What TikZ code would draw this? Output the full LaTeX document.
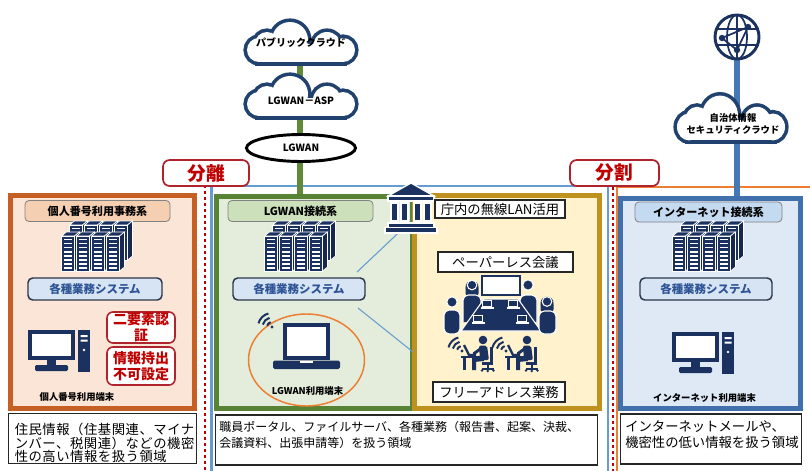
\documentclass[tikz,border=0pt]{standalone}
\usepackage{fontspec}
\setmainfont{Noto Sans CJK JP}
\usetikzlibrary{shapes.geometric}
\pgfdeclarelayer{paper}
\pgfdeclarelayer{zones}
\pgfdeclarelayer{links}
\pgfsetlayers{paper,zones,links,main}

\definecolor{navy}{RGB}{27,50,96}
\definecolor{cloudline}{RGB}{33,66,110}
\definecolor{lgwgreen}{RGB}{96,138,58}
\definecolor{netblue}{RGB}{70,120,180}
\definecolor{lboxline}{RGB}{197,95,35}
\definecolor{lboxfill}{RGB}{251,229,214}
\definecolor{lhdrfill}{RGB}{245,207,178}
\definecolor{gboxline}{RGB}{88,130,52}
\definecolor{gboxfill}{RGB}{228,237,219}
\definecolor{ghdrfill}{RGB}{205,224,188}
\definecolor{yboxline}{RGB}{191,145,30}
\definecolor{yboxfill}{RGB}{255,242,204}
\definecolor{rboxline}{RGB}{66,112,172}
\definecolor{rboxfill}{RGB}{222,233,245}
\definecolor{rhdrfill}{RGB}{196,218,240}
\definecolor{sysfill}{RGB}{214,228,243}
\definecolor{sysline}{RGB}{45,55,75}
\definecolor{systext}{RGB}{46,84,150}
\definecolor{alert}{RGB}{192,0,0}
\definecolor{alertline}{RGB}{175,35,45}
\definecolor{zoneblue}{RGB}{100,155,210}
\definecolor{zoneorange}{RGB}{237,125,49}
\definecolor{hdrline}{RGB}{130,130,130}

\newcommand\jfs[2]{\fontsize{#1}{#2}\selectfont}

\tikzset{
  px/.style 2 args={minimum width=#1*0.75pt, minimum height=#2*0.75pt},
  zonebox/.style 2 args={draw=#1, fill=#2, line width=3.6pt, inner sep=0pt},
  hdr/.style={draw=hdrline, line width=0.6pt, rounded corners=3pt, inner sep=0pt, font=\bfseries\jfs{8.3}{10}},
  sys/.style={draw=sysline, fill=sysfill, line width=1.1pt, rounded corners=3.5pt, inner sep=0pt, text=systext, font=\bfseries\jfs{8.6}{10}},
  desc/.style={draw=black!85, fill=white, line width=1.2pt, inner sep=0pt},
  desctext/.style={inner sep=0pt, align=left, anchor=west},
  tag/.style={draw=black!85, fill=white, line width=1.1pt, inner sep=0pt, font=\jfs{10}{12}},
  redbox/.style={draw=alertline, fill=white, line width=1.2pt, rounded corners=4.5pt, inner sep=0pt, text=alert, align=center, font=\bfseries\jfs{10.5}{12}},
  sepbox/.style={draw=alertline, fill=white, line width=1.3pt, rounded corners=5pt, inner sep=0pt, text=alert, font=\bfseries\jfs{14}{16}},
  cloudtxt/.style={inner sep=0pt, align=center, font=\bfseries\jfs{7.5}{9}},
  devlabel/.style={inner sep=0pt, font=\bfseries\jfs{7}{8}},
  lgwlink/.style={draw=lgwgreen, line width=4.5pt},
  netlink/.style={draw=netblue, line width=5pt},
  radio/.style={draw=zoneblue, line width=0.8pt},
  sepline/.style={draw=alert, line width=2.2pt, dash pattern=on 2.2pt off 2.3pt},
  % cloud outline: thick stroke of every puff first, then each puff filled white
  pics/cloud/.style={code={
    \foreach \cx/\cy/\r in {-42/8/12, 42/8/12, -11/-2/18, -34/2/12, 26/4/14}
      \filldraw[cloudline, line width=5.4pt] (\cx,\cy) circle (\r);
    \filldraw[cloudline, line width=5.4pt] (-42,2) rectangle (42,20);
    \foreach \cx/\cy/\r in {-42/8/12, 42/8/12, -11/-2/18, -34/2/12, 26/4/14}
      \fill[white] (\cx,\cy) circle (\r);
    \fill[white] (-42,2) rectangle (42,20);
  }},
  % rack of servers, two rows of four towers
  pics/servers/.style={code={
    \foreach \ox/\oy in {8/-11, 0/0}{
      \foreach \i in {0,1,2,3}{
        \begin{scope}[shift={(\ox+\i*15,\oy)}]
          \filldraw[navy, draw=white, line width=0.5pt] (0,0) -- (5,-4) -- (18,-4) -- (13,0) -- cycle;
          \filldraw[navy!80!black, draw=white, line width=0.5pt] (13,0) -- (18,-4) -- (18,31) -- (13,35) -- cycle;
          \filldraw[navy, draw=white, line width=0.5pt] (0,0) rectangle (13,35);
          \foreach \k in {0,...,7} \fill[white] (2.2,2.6+\k*4.1) rectangle (10.8,4.2+\k*4.1);
        \end{scope}
      }
    }
  }},
  % desktop computer: monitor and tower
  pics/desktop/.style={code={
    \filldraw[fill=white, draw=navy, line width=3pt] (2,2) rectangle (45,28);
    \fill[navy] (19,30) rectangle (28,35.5);
    \fill[navy, rounded corners=1pt] (7,35) rectangle (40,41);
    \fill[navy] (50,0) rectangle (62,42);
    \fill[white] (52.5,5) rectangle (59.5,7) (52.5,9.5) rectangle (59.5,11.5);
    \fill[white] (56,20) circle (1.4);
  }},
  % notebook computer
  pics/laptop/.style={code={
    \filldraw[fill=white, draw=navy, line width=3.3pt] (2.2,2.2) rectangle (44.8,35);
    \fill[navy, rounded corners=1.2pt] (-10,37.5) rectangle (57,46);
    \fill[white] (17,37.5) rectangle (30,40);
  }},
  % wireless symbol, waves towards the upper left
  pics/wifi/.style={code={
    \fill[navy] (0,0) circle (1.7);
    \foreach \r in {5,9.5,14}
      \draw[navy, line width=1.5pt] (0,0) ++(195:\r) arc[start angle=195, end angle=255, radius=\r];
  }},
  % person working at a desk with a notebook
  pics/worker/.style={code={
    \pic at (-21,11) {wifi};
    \draw[navy, line width=1.8pt] (-19,5) -- (-14,15) -- (-7,15);
    \fill[navy] (-22,15.5) rectangle (-2,18);
    \fill[navy] (-20,18) rectangle (-17.5,30);
    \fill[navy] (0,0) circle (4.3);
    \fill[navy, rounded corners=1.5pt] (-4,5.5) -- (4,5.5) -- (6,20) -- (-3,20) -- cycle;
    \draw[navy, line width=2.2pt, line cap=round] (-2,8.5) -- (-9,13.5);
    \draw[navy, line width=3pt] (1,19) -- (-9,20) -- (-9,30);
    \fill[navy] (7,7) rectangle (9.5,23.5);
    \fill[navy] (-1,22) rectangle (9.5,24.5);
    \fill[navy] (3.8,24.5) rectangle (5.6,28.5);
    \draw[navy, line width=1.4pt] (-1,29) -- (10.5,29);
    \fill[navy] (-1,30.5) circle (1.3) (4.7,31) circle (1.3) (10.5,30.5) circle (1.3);
  }},
}

\begin{document}
\begin{tikzpicture}[x=0.75pt,y=-0.75pt]
\useasboundingbox (0,0) rectangle (810,471);
\begin{pgfonlayer}{paper}
  \fill[white] (0,0) rectangle (810,471);
\end{pgfonlayer}

% ---------- zone boundaries and separation lines ----------
\begin{pgfonlayer}{zones}
  \draw[zoneblue, line width=1.6pt] (211.5,480) -- (211.5,186) -- (608,186) -- (608,480);
  \draw[zoneorange, line width=1.6pt] (617,480) -- (617,187) -- (815,187);
  \draw[sepline] (205,185) -- (205,475);
  \draw[sepline] (613,187) -- (613,475);
\end{pgfonlayer}

% ---------- the three network areas ----------
\node[zonebox={lboxline}{lboxfill}, px={184}{213}] (lbox) at (102.5,302) {};
\node[zonebox={gboxline}{gboxfill}, px={196}{212}] (gbox) at (314.5,302.5) {};
\node[zonebox={yboxline}{yboxfill}, px={185}{213}] (ybox) at (507,302) {};
\node[zonebox={rboxline}{rboxfill}, px={180}{210}] (rbox) at (710.5,303.5) {};

% ---------- uplinks ----------
\coordinate (pubpt) at (300,42);
\coordinate (globe) at (737,37);
\begin{pgfonlayer}{links}
  \draw[lgwlink] (pubpt) -- (pubpt |- gbox.north);
  \draw[netlink] (globe) -- (globe |- rbox.north);
\end{pgfonlayer}

% ---------- clouds, LGWAN and the internet ----------
\pic at (301,42) {cloud};
\node[cloudtxt] (pubc) at (301,43) {パブリッククラウド};
\pic at (301,96) {cloud};
\node[cloudtxt] (aspc) at (301,101) {LGWAN－ASP};
\node[ellipse, draw=black, line width=2.2pt, fill=white, px={109}{27}, inner sep=0pt, font=\bfseries\jfs{7.5}{9}] (lgwan) at (301,148) {LGWAN};
\pic[yscale=1.12] at (731,118) {cloud};
\node[cloudtxt, font=\bfseries\jfs{7}{9}] (secc) at (733,124) {自治体情報\\セキュリティクラウド};

% globe
\begin{scope}
  \filldraw[fill=white, draw=navy, line width=2.2pt] (globe) circle (22);
  \clip (globe) circle (21);
  \draw[navy, line width=1.3pt] (globe) ellipse [x radius=10, y radius=22];
  \draw[navy, line width=1.3pt] (737,14) -- (737,60) (714,29) -- (760,29) (714,45) -- (760,45);
  \draw[navy, line width=1.3pt] (722,38) -- (748,27) -- (737,50) -- cycle;
  \fill[navy] (722,38) circle (3.2) (748,27) circle (3.2) (737,50) circle (3.2);
\end{scope}

% ---------- separation labels ----------
\node[sepbox, px={86}{26}] (sepA) at (206,173) {分離};
\node[sepbox, px={89}{26}] (sepB) at (614.5,173) {分割};

% ---------- personal number area ----------
\node[hdr, fill=lhdrfill, px={145}{21}] (lhdr) at (97.5,211) {個人番号利用事務系};
\pic at (61.5,236) {servers};
\node[sys, px={134}{22}] (lsys) at (95,289) {各種業務システム};
\pic at (28,330) {desktop};
\node[redbox, px={68}{31}] (twofa) at (141,327.5) {二要素認\\証};
\node[redbox, px={68}{38}] (noexp) at (141,366) {情報持出\\不可設定};
\node[devlabel] (lterm) at (77,397) {個人番号利用端末};

% ---------- LGWAN area ----------
\node[hdr, fill=ghdrfill, px={145}{21}] (ghdr) at (300.5,211) {LGWAN接続系};
\pic at (264.5,236) {servers};
\node[sys, px={132}{22}] (gsys) at (299,289) {各種業務システム};
\draw[zoneorange, line width=1.1pt] (306.5,360) ellipse [x radius=58, y radius=46];
\pic at (283,323) {laptop};
\pic at (272,327) {wifi};
\node[devlabel] (gterm) at (307.5,391) {LGWAN利用端末};

% wireless links from the office building
\coordinate (bankfoot) at (411,221);
\coordinate (wlA) at (357,272);
\coordinate (wlB) at (358,308);
\coordinate (wlC) at (413,352);
\draw[radio] (bankfoot) -- (wlA);
\draw[radio] (wlB) -- (wlC);

% office building
\begin{scope}[navy, draw=white, line width=1pt]
  \filldraw (388,196) -- (411,183) -- (434,196) -- cycle;
  \filldraw (388,196) rectangle (434,201);
  \filldraw (391,203) rectangle (398,221) (401,203) rectangle (408,221)
            (414,203) rectangle (421,221) (424,203) rectangle (431,221);
  \filldraw (388,223) rectangle (434,227.5);
  \filldraw (385,227.5) rectangle (437,233);
\end{scope}
\node[tag, px={130}{18}] (wlan) at (500,209) {庁内の無線LAN活用};

% ---------- paperless meeting ----------
\node[tag, px={135}{20}] (paper) at (505.5,262) {ペーパーレス会議};
\filldraw[fill=white, draw=navy, line width=1.5pt] (482,275.5) rectangle (520,295);
% people at the back
\fill[navy] (472,287) circle (6.5);
\fill[navy, rounded corners=2pt] (465.5,286) rectangle (478.5,296);
\filldraw[navy, draw=white, line width=0.8pt, rounded corners=4pt] (463,322) -- (463,295) -- (481,295) -- (481,322);
\filldraw[navy, draw=white, line width=0.8pt] (472,285) circle (4.8);
\filldraw[navy, draw=white, line width=0.8pt, rounded corners=4pt] (520,322) -- (520,295) -- (537,295) -- (537,322);
\filldraw[navy, draw=white, line width=0.8pt] (528,285) circle (5.2);
% table with notebooks
\filldraw[navy, draw=white, line width=0.8pt] (484,299) -- (518,299) -- (541,331) -- (461,331) -- cycle;
\foreach \cx/\cy in {487/307, 513/307, 478/322, 522/322}{
  \draw[white, line width=0.8pt] (\cx-4.5,\cy-6.5) rectangle (\cx+4.5,\cy-0.5);
  \draw[white, line width=1.1pt] (\cx-6.5,\cy+0.8) -- (\cx+6.5,\cy+0.8);
}
% people at the sides
\filldraw[navy, draw=white, line width=0.8pt, rounded corners=4pt] (444,334) -- (444,310) -- (460,310) -- (460,334) -- cycle;
\filldraw[navy, draw=white, line width=0.8pt] (452,302) circle (5.2);
\fill[navy] (547,303) circle (6.5);
\fill[navy, rounded corners=2pt] (540.5,302) rectangle (553.5,312);
\filldraw[navy, draw=white, line width=0.8pt, rounded corners=4pt] (539,334) -- (539,311) -- (556,311) -- (556,334) -- cycle;
\filldraw[navy, draw=white, line width=0.8pt] (547,301.5) circle (4.8);

% ---------- free address work ----------
\pic at (483,340) {worker};
\pic at (527,340) {worker};
\node[tag, px={132}{20}] (freead) at (499,392) {フリーアドレス業務};

% ---------- internet area ----------
\node[hdr, fill=rhdrfill, px={147}{20}] (rhdr) at (708.5,212) {インターネット接続系};
\pic at (672.5,236) {servers};
\node[sys, px={132}{22}] (rsys) at (706,289) {各種業務システム};
\pic at (672,332) {desktop};
\node[devlabel] (rterm) at (704.5,398) {インターネット利用端末};

% ---------- descriptions ----------
\node[desc, px={188}{50}] (ldesc) at (102.5,438.5) {};
\node[desctext, font=\jfs{10}{9.9}\addfontfeature{LetterSpace=4}] (ldtxt) at (14.5,443)
  {住民情報（住基関連、マイナ\\ンバー、税関連）などの機密\\性の高い情報を扱う領域};
\node[desc, px={382}{50}] (gdesc) at (406.5,440) {};
\node[desctext, font=\jfs{9}{12}] (gdtxt) at (219,435)
  {職員ポータル、ファイルサーバ、各種業務（報告書、起案、決裁、\\会議資料、出張申請等）を扱う領域};
\node[desc, px={181}{50}] (rdesc) at (711,439) {};
\node[desctext, font=\jfs{10}{12}] (rdtxt) at (625,435)
  {インターネットメールや、\\機密性の低い情報を扱う領域};
\end{tikzpicture}
\end{document}
